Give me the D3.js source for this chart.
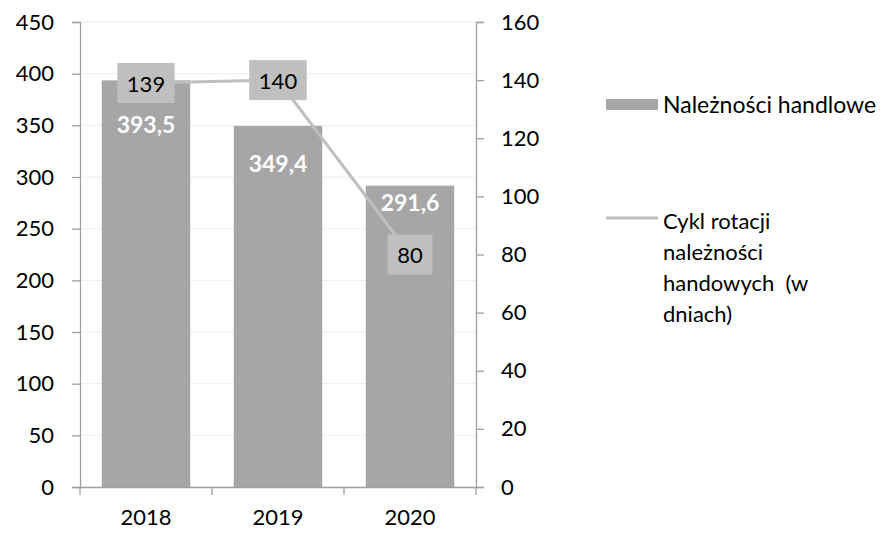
<!DOCTYPE html>
<html><head><meta charset="utf-8">
<script src="https://cdn.jsdelivr.net/npm/d3@7"></script>
<style>body{margin:0;background:#fff}svg{display:block}text{font-family:Lato,"Open Sans",sans-serif}</style>
</head><body>
<svg id="c" width="895" height="533"></svg>
<script>
const categories = ["2018", "2019", "2020"];
const receivables = [393.5, 349.4, 291.6];
const barLabels = ["393,5", "349,4", "291,6"];
const cycleDays = [139, 140, 80];
const leftTicks = [0, 50, 100, 150, 200, 250, 300, 350, 400, 450];
const rightTicks = [0, 20, 40, 60, 80, 100, 120, 140, 160];
const seriesNames = ["Należności handlowe", "Cykl rotacji", "należności", "handowych  (w", "dniach)"];

// layout (not data)
const barLabelOffsets = [44, 37, 16];
const L = 80, R = 476, T = 22, B = 487;
const svg = d3.select("#c");

const x = d3.scaleBand().domain(categories).range([L, R]).paddingInner(0.33).paddingOuter(0.165);
const xc = d3.scaleBand().domain(categories).range([L, R]);
const yL = d3.scaleLinear().domain([0, 450]).range([B, T]);
const yR = d3.scaleLinear().domain([0, 160]).range([B, T]);

// gridlines
svg.append("g").selectAll("line").data(leftTicks.slice(1)).join("line")
  .attr("x1", L).attr("x2", R).attr("y1", d => yL(d)).attr("y2", d => yL(d))
  .attr("stroke", "#ececec").attr("stroke-width", 1);

// bars
svg.append("g").selectAll("rect").data(receivables).join("rect")
  .attr("x", (d, i) => x(categories[i])).attr("width", x.bandwidth())
  .attr("y", d => yL(d)).attr("height", d => B - yL(d)).attr("fill", "#a6a6a6");

const axisColor = "#a0a0a0";
const gl = svg.append("g").attr("transform", `translate(${L},0)`)
  .call(d3.axisLeft(yL).tickValues(leftTicks).tickSize(8).tickPadding(18));
const gr = svg.append("g").attr("transform", `translate(${R},0)`)
  .call(d3.axisRight(yR).tickValues(rightTicks).tickSize(8).tickPadding(17));
const gb = svg.append("g").attr("transform", `translate(0,${B})`)
  .call(d3.axisBottom(xc).tickSize(0).tickPadding(22));
[gl, gr, gb].forEach(g => {
  g.select(".domain").attr("stroke", axisColor).attr("stroke-width", 1.3);
  g.selectAll(".tick line").attr("stroke", axisColor).attr("stroke-width", 1.3);
  g.selectAll("text").attr("font-size", 22).attr("fill", "#000").style("font-family", "Lato");
});
svg.append("g").selectAll("line").data([...categories.map(c => xc(c)), R]).join("line")
  .attr("x1", d => d).attr("x2", d => d).attr("y1", B).attr("y2", B + 8)
  .attr("stroke", axisColor).attr("stroke-width", 1.3);

// bar labels
svg.append("g").selectAll("text").data(barLabels).join("text")
  .attr("x", (d, i) => xc(categories[i]) + xc.bandwidth() / 2)
  .attr("y", (d, i) => yL(receivables[i]) + barLabelOffsets[i])
  .attr("text-anchor", "middle").attr("dominant-baseline", "central")
  .attr("font-size", 23).attr("font-weight", "bold").attr("fill", "#fff").text(d => d);

// line
const lineColor = "#bfbfbf";
const cx = i => xc(categories[i]) + xc.bandwidth() / 2;
svg.append("path").datum(cycleDays)
  .attr("d", d3.line().x((d, i) => cx(i)).y(d => yR(d)))
  .attr("fill", "none").attr("stroke", lineColor).attr("stroke-width", 3);

// line labels
const lg = svg.append("g").selectAll("g").data(cycleDays).join("g")
  .attr("transform", (d, i) => `translate(${cx(i)},${yR(d)})`);
lg.append("text").attr("text-anchor", "middle").attr("dominant-baseline", "central")
  .attr("font-size", 22).attr("fill", "#000").text(d => d);
lg.each(function () {
  const t = d3.select(this).select("text").node().getBBox();
  d3.select(this).insert("rect", "text")
    .attr("x", -t.width / 2 - 9.5).attr("y", -20).attr("width", t.width + 19).attr("height", 40)
    .attr("fill", lineColor);
});

// legend
const leg = svg.append("g");
leg.append("rect").attr("x", 606).attr("y", 99).attr("width", 52).attr("height", 11).attr("fill", "#a6a6a6");
leg.append("text").attr("x", 663).attr("y", 104).attr("dominant-baseline", "central")
  .attr("font-size", 23).text(seriesNames[0]);
leg.append("line").attr("x1", 606).attr("x2", 658).attr("y1", 218).attr("y2", 218)
  .attr("stroke", lineColor).attr("stroke-width", 3);
leg.selectAll("text.l2").data(seriesNames.slice(1)).join("text").attr("class", "l2")
  .attr("x", 663).attr("y", (d, i) => 220 + i * 31).attr("dominant-baseline", "central")
  .attr("font-size", 22).style("white-space", "pre").attr("xml:space", "preserve").text(d => d);
</script>
</body></html>
